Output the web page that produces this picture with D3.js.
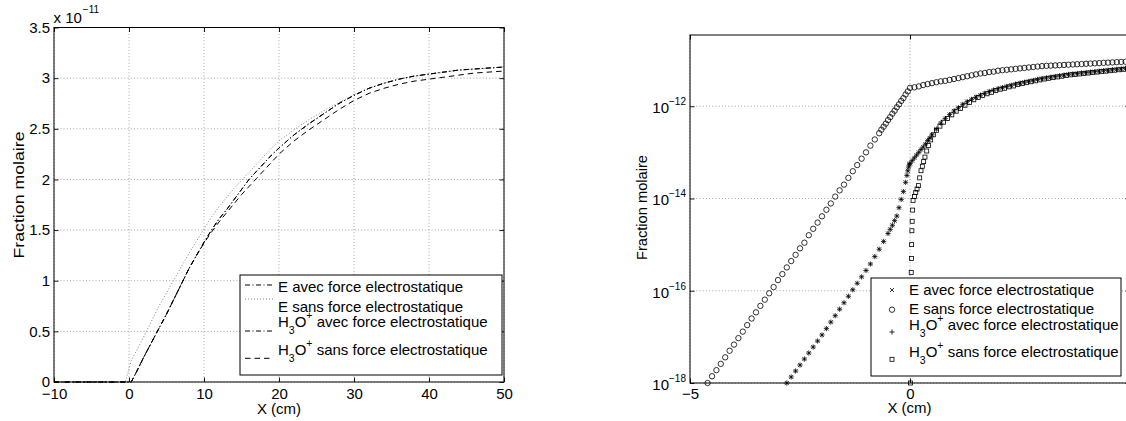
<!DOCTYPE html>
<html><head><meta charset="utf-8">
<script src="https://cdn.jsdelivr.net/npm/d3@7"></script>
<style>
html,body{margin:0;padding:0;background:#fff;}
svg{display:block;font-family:"Liberation Sans",Arial,Helvetica,sans-serif;}
text{white-space:pre;}
</style></head><body>
<svg id="chart" width="1126" height="421"></svg>
<script>
// ---------------- LEFT PANEL DATA (values in units of 1e-11) ----------------
const leftX = [-10,-5,-0.5,0,0.3,1,2,3,4,5,6,7,8,9,10,11,12,13,14,15,16,17,18,19,20,22,24,26,28,30,32,34,36,38,40,42,44,46,48,50];
const leftEAvec = [0,0,0,0,0,0.10,0.25,0.39,0.53,0.67,0.82,0.97,1.12,1.25,1.38,1.50,1.61,1.70,1.80,1.90,2.00,2.08,2.16,2.24,2.31,2.44,2.55,2.65,2.75,2.83,2.90,2.95,2.99,3.02,3.04,3.06,3.08,3.09,3.10,3.11];
const leftESans = [0,0,0,0.13,0.21,0.31,0.45,0.60,0.75,0.88,1.01,1.14,1.27,1.39,1.51,1.63,1.73,1.82,1.91,1.99,2.07,2.15,2.23,2.31,2.38,2.49,2.59,2.68,2.76,2.84,2.90,2.95,2.99,3.02,3.04,3.06,3.08,3.09,3.10,3.11];
const leftH3OAvec = [0,0,0,0,0,0.10,0.25,0.39,0.53,0.67,0.82,0.97,1.12,1.25,1.38,1.50,1.61,1.70,1.80,1.90,2.00,2.08,2.16,2.24,2.31,2.44,2.55,2.65,2.75,2.83,2.90,2.95,2.99,3.02,3.04,3.06,3.08,3.09,3.10,3.11];
const leftH3OSans = [0,0,0,0,0,0.10,0.25,0.39,0.53,0.67,0.82,0.97,1.12,1.25,1.37,1.48,1.58,1.67,1.76,1.85,1.93,2.01,2.09,2.17,2.25,2.38,2.49,2.59,2.69,2.78,2.85,2.90,2.94,2.97,2.99,3.01,3.03,3.05,3.06,3.07];
const leftXTicks = [-10,0,10,20,30,40,50];
const leftYTicks = [0,0.5,1,1.5,2,2.5,3,3.5];
const leftYExponent = "\u221211";

// ---------------- RIGHT PANEL DATA ----------------
const eAvecX = [-2.8,-2.7,-2.6,-2.5,-2.4,-2.3,-2.2,-2.1,-2.0,-1.9,-1.8,-1.7,-1.6,-1.5,-1.4,-1.3,-1.2,-1.1,-1.0,-0.9,-0.8,-0.7,-0.6,-0.5,-0.45,-0.4,-0.35,-0.3,-0.25,-0.2,-0.15,-0.1,-0.07,-0.05,-0.03,-0.01,0,
  0.05,0.1,0.15,0.2,0.25,0.3,0.35,0.4,0.45,0.5,0.6,0.7,0.8,0.9,1.0,1.1,1.2,1.3,1.4,1.5,1.6,1.7,1.8,1.9,2.0,2.1,2.2,2.3,2.4,2.5,2.6,2.7,2.8,2.9,3.0,3.1,3.2,3.3,3.4,3.5,3.6,3.7,3.8,3.9,4.0,4.1,4.2,4.3,4.4,4.5,4.6,4.7,4.8,4.9,5.0];
const eAvecY = [1.0e-18,1.35e-18,1.82e-18,2.45e-18,3.31e-18,4.47e-18,6.03e-18,8.13e-18,1.10e-17,1.51e-17,2.09e-17,2.88e-17,3.98e-17,5.50e-17,7.59e-17,1.05e-16,1.45e-16,2.00e-16,2.75e-16,3.80e-16,5.50e-16,7.94e-16,1.17e-15,1.74e-15,2.14e-15,2.63e-15,3.31e-15,4.17e-15,6.31e-15,9.55e-15,1.41e-14,2.24e-14,3.16e-14,3.98e-14,4.79e-14,5.50e-14,5.75e-14,
  6.6e-14,7.6e-14,8.7e-14,1.0e-13,1.15e-13,1.3e-13,1.51e-13,1.8e-13,2.04e-13,2.4e-13,3.2e-13,4.3e-13,5.4e-13,6.6e-13,7.9e-13,9.3e-13,1.1e-12,1.26e-12,1.41e-12,1.58e-12,1.74e-12,1.91e-12,2.09e-12,2.24e-12,2.40e-12,2.54e-12,2.69e-12,2.85e-12,3.02e-12,3.16e-12,3.31e-12,3.47e-12,3.63e-12,3.80e-12,3.98e-12,4.12e-12,4.27e-12,4.42e-12,4.57e-12,4.73e-12,4.90e-12,5.01e-12,5.13e-12,5.25e-12,5.37e-12,5.50e-12,5.62e-12,5.75e-12,5.89e-12,6.03e-12,6.17e-12,6.31e-12,6.46e-12,6.61e-12,6.76e-12];
const eSansX = [-4.6,-4.5,-4.4,-4.3,-4.2,-4.1,-4.0,-3.9,-3.8,-3.7,-3.6,-3.5,-3.4,-3.3,-3.2,-3.1,-3.0,-2.9,-2.8,-2.7,-2.6,-2.5,-2.4,-2.3,-2.2,-2.1,-2.0,-1.9,-1.8,-1.7,-1.6,-1.5,-1.4,-1.3,-1.2,-1.1,-1.0,-0.9,-0.8,-0.7,
  -0.65,-0.6,-0.55,-0.5,-0.45,-0.4,-0.35,-0.3,-0.25,-0.2,-0.15,-0.1,-0.05,0,
  0.1,0.2,0.3,0.4,0.5,0.6,0.7,0.8,0.9,1.0,1.1,1.2,1.3,1.4,1.5,1.6,1.7,1.8,1.9,2.0,2.1,2.2,2.3,2.4,2.5,2.6,2.7,2.8,2.9,3.0,3.1,3.2,3.3,3.4,3.5,3.6,3.7,3.8,3.9,4.0,4.1,4.2,4.3,4.4,4.5,4.6,4.7,4.8,4.9,5.0];
const eSansY = [1.0e-18,1.4e-18,1.9e-18,2.6e-18,3.6e-18,5.0e-18,6.8e-18,9.4e-18,1.3e-17,1.8e-17,2.5e-17,3.4e-17,4.7e-17,6.4e-17,8.8e-17,1.2e-16,1.7e-16,2.3e-16,3.2e-16,4.4e-16,6.0e-16,8.3e-16,1.1e-15,1.6e-15,2.2e-15,3.0e-15,4.1e-15,5.7e-15,7.8e-15,1.1e-14,1.5e-14,2.0e-14,2.8e-14,3.9e-14,5.3e-14,7.3e-14,1.0e-13,1.4e-13,1.9e-13,2.6e-13,
  3.1e-13,3.6e-13,4.2e-13,5.0e-13,5.8e-13,6.9e-13,8.0e-13,9.5e-13,1.1e-12,1.3e-12,1.5e-12,1.8e-12,2.1e-12,2.5e-12,
  2.57e-12,2.69e-12,2.88e-12,3.02e-12,3.16e-12,3.31e-12,3.47e-12,3.55e-12,3.72e-12,3.89e-12,4.07e-12,4.27e-12,4.47e-12,4.68e-12,4.90e-12,5.13e-12,5.25e-12,5.50e-12,5.62e-12,5.89e-12,6.03e-12,6.17e-12,6.31e-12,6.46e-12,6.61e-12,6.76e-12,6.92e-12,7.08e-12,7.24e-12,7.41e-12,7.50e-12,7.59e-12,7.67e-12,7.76e-12,7.85e-12,7.94e-12,8.04e-12,8.13e-12,8.22e-12,8.32e-12,8.41e-12,8.51e-12,8.61e-12,8.71e-12,8.81e-12,8.91e-12,9.02e-12,9.12e-12,9.23e-12,9.33e-12];
const h3oAvecX = [-2.8,-2.7,-2.6,-2.5,-2.4,-2.3,-2.2,-2.1,-2.0,-1.9,-1.8,-1.7,-1.6,-1.5,-1.4,-1.3,-1.2,-1.1,-1.0,-0.9,-0.8,-0.7,-0.6,-0.5,-0.45,-0.4,-0.35,-0.3,-0.25,-0.2,-0.15,-0.1,-0.07,-0.05,-0.03,-0.01,0,
  0.05,0.1,0.15,0.2,0.25,0.3,0.35,0.4,0.45,0.5,0.6,0.7,0.8,0.9,1.0,1.1,1.2,1.3,1.4,1.5,1.6,1.7,1.8,1.9,2.0,2.1,2.2,2.3,2.4,2.5,2.6,2.7,2.8,2.9,3.0,3.1,3.2,3.3,3.4,3.5,3.6,3.7,3.8,3.9,4.0,4.1,4.2,4.3,4.4,4.5,4.6,4.7,4.8,4.9,5.0];
const h3oAvecY = [1.0e-18,1.35e-18,1.82e-18,2.45e-18,3.31e-18,4.47e-18,6.03e-18,8.13e-18,1.10e-17,1.51e-17,2.09e-17,2.88e-17,3.98e-17,5.50e-17,7.59e-17,1.05e-16,1.45e-16,2.00e-16,2.75e-16,3.80e-16,5.50e-16,7.94e-16,1.17e-15,1.74e-15,2.14e-15,2.63e-15,3.31e-15,4.17e-15,6.31e-15,9.55e-15,1.41e-14,2.24e-14,3.16e-14,3.98e-14,4.79e-14,5.50e-14,5.75e-14,
  6.6e-14,7.6e-14,8.7e-14,1.0e-13,1.15e-13,1.3e-13,1.51e-13,1.8e-13,2.04e-13,2.4e-13,3.2e-13,4.3e-13,5.4e-13,6.6e-13,7.9e-13,9.3e-13,1.1e-12,1.26e-12,1.41e-12,1.58e-12,1.74e-12,1.91e-12,2.09e-12,2.24e-12,2.40e-12,2.54e-12,2.69e-12,2.85e-12,3.02e-12,3.16e-12,3.31e-12,3.47e-12,3.63e-12,3.80e-12,3.98e-12,4.12e-12,4.27e-12,4.42e-12,4.57e-12,4.73e-12,4.90e-12,5.01e-12,5.13e-12,5.25e-12,5.37e-12,5.50e-12,5.62e-12,5.75e-12,5.89e-12,6.03e-12,6.17e-12,6.31e-12,6.46e-12,6.61e-12,6.76e-12];
const h3oSansX = [0.010,0.012,0.014,0.016,0.018,0.020,0.022,0.025,0.028,0.032,0.037,0.043,0.050,0.060,0.070,0.10,0.13,0.16,0.19,0.22,0.25,0.28,0.31,0.34,0.38,0.42,0.47,0.53,0.60,0.68,0.76,0.85,0.95,1.05,1.15,1.25,1.35,1.45,1.55,1.65,1.75,1.85,1.95,2.05,
  2.15,2.25,2.35,2.45,2.55,2.65,2.75,2.85,2.95,3.05,3.15,3.25,3.35,3.45,3.55,3.65,3.75,3.85,3.95,4.05,4.15,4.25,4.35,4.45,4.55,4.65,4.75,4.85,4.95];
const h3oSansY = [1.0e-18,2.0e-18,4.0e-18,7.9e-18,1.6e-17,3.2e-17,6.3e-17,1.3e-16,2.5e-16,5.0e-16,1.0e-15,2.0e-15,3.2e-15,5.6e-15,9.1e-15,1.1e-14,1.35e-14,1.6e-14,1.9e-14,2.8e-14,4.0e-14,5.0e-14,6.3e-14,7.9e-14,1.07e-13,1.41e-13,1.86e-13,2.4e-13,3.0e-13,3.7e-13,4.5e-13,5.4e-13,6.5e-13,7.8e-13,8.9e-13,1.05e-12,1.2e-12,1.38e-12,1.55e-12,1.7e-12,1.86e-12,2.0e-12,2.19e-12,2.34e-12,
  2.45e-12,2.63e-12,2.75e-12,2.95e-12,3.09e-12,3.24e-12,3.39e-12,3.55e-12,3.72e-12,3.89e-12,4.03e-12,4.17e-12,4.32e-12,4.47e-12,4.62e-12,4.79e-12,4.90e-12,5.01e-12,5.13e-12,5.25e-12,5.37e-12,5.50e-12,5.62e-12,5.75e-12,5.89e-12,6.03e-12,6.17e-12,6.31e-12,6.46e-12];
const rightXTicks = [-5,0];
const rightYTicks = [1e-18,1e-16,1e-14,1e-12];

const legendLabels = ["E avec force electrostatique","E sans force electrostatique","H_3O^+ avec force electrostatique","H_3O^+ sans force electrostatique"];
const xLabel = "X (cm)";
const yLabel = "Fraction molaire";

// ---------------- DRAWING ----------------
const svg = d3.select("#chart");
const FS = 15;
const GRID = {stroke:"#8a8a8a", w:0.8, dash:"1,2.2"};

function rich(textSel, str, small, subShift, supShift) {
  const parts = []; let buf = ""; let i = 0;
  while (i < str.length) {
    const c = str[i];
    if (c === "_" || c === "^") { if (buf) { parts.push({t:buf,k:"n"}); buf=""; } parts.push({t:str[i+1], k: c === "_" ? "sub" : "sup"}); i += 2; }
    else { buf += c; i++; }
  }
  if (buf) parts.push({t:buf,k:"n"});
  let cur = 0;
  parts.forEach(p => {
    const target = p.k === "sub" ? subShift : p.k === "sup" ? supShift : 0;
    const ts = textSel.append("tspan").text(p.t).attr("dy", target - cur);
    if (p.k !== "n") ts.attr("font-size", small);
    cur = target;
  });
}

function styleAxis(g, hideText) {
  g.select(".domain").remove();
  g.selectAll(".tick line").attr("stroke","#000").attr("stroke-width",0.9);
  g.selectAll(".tick text").attr("font-size",FS).attr("fill","#000").attr("font-family",null);
  if (hideText) g.selectAll(".tick text").remove();
  g.attr("font-family",null);
}

// ===== Left panel =====
const L = {left:54, right:504, top:27.5, bottom:382};
const xL = d3.scaleLinear().domain([-10,50]).range([L.left,L.right]);
const yL = d3.scaleLinear().domain([0,3.5]).range([L.bottom,L.top]);
const gL = svg.append("g");

gL.append("g").selectAll("line").data(leftXTicks).join("line")
  .attr("x1",d=>xL(d)).attr("x2",d=>xL(d)).attr("y1",L.top).attr("y2",L.bottom)
  .attr("stroke",GRID.stroke).attr("stroke-width",GRID.w).attr("stroke-dasharray",GRID.dash);
gL.append("g").selectAll("line").data(leftYTicks).join("line")
  .attr("y1",d=>yL(d)).attr("y2",d=>yL(d)).attr("x1",L.left).attr("x2",L.right)
  .attr("stroke",GRID.stroke).attr("stroke-width",GRID.w).attr("stroke-dasharray",GRID.dash);

const fmt = d3.format("~g");
gL.append("g").attr("transform",`translate(0,${L.bottom})`)
  .call(d3.axisBottom(xL).tickValues(leftXTicks).tickSizeInner(-4.5).tickSizeOuter(0).tickPadding(6.5).tickFormat(fmt))
  .call(g=>styleAxis(g,false));
gL.append("g").attr("transform",`translate(0,${L.top})`)
  .call(d3.axisTop(xL).tickValues(leftXTicks).tickSizeInner(-4.5).tickSizeOuter(0))
  .call(g=>styleAxis(g,true));
gL.append("g").attr("transform",`translate(${L.left},0)`)
  .call(d3.axisLeft(yL).tickValues(leftYTicks).tickSizeInner(-4.5).tickSizeOuter(0).tickPadding(4).tickFormat(fmt))
  .call(g=>styleAxis(g,false));
gL.append("g").attr("transform",`translate(${L.right},0)`)
  .call(d3.axisRight(yL).tickValues(leftYTicks).tickSizeInner(-4.5).tickSizeOuter(0))
  .call(g=>styleAxis(g,true));

const lineL = d3.line().x(d=>xL(d[0])).y(d=>yL(d[1]));
const leftSeries = [
  {y:leftEAvec, dash:"5,2.5,1,2.5", color:"#000", w:1},
  {y:leftESans, dash:"1,2", color:"#666", w:0.8},
  {y:leftH3OAvec, dash:"5,2.5,1,2.5", color:"#000", w:1},
  {y:leftH3OSans, dash:"5.5,4", color:"#000", w:1}
];
leftSeries.forEach(s => {
  gL.append("path").datum(d3.zip(leftX, s.y)).attr("d", lineL)
    .attr("fill","none").attr("stroke",s.color).attr("stroke-width",s.w).attr("stroke-dasharray",s.dash);
});

gL.append("rect").attr("x",L.left).attr("y",L.top).attr("width",L.right-L.left).attr("height",L.bottom-L.top)
  .attr("fill","none").attr("stroke","#000").attr("stroke-width",1);

// exponent label
const expT = gL.append("text").attr("x",53.5).attr("y",22.7).attr("font-size",FS);
expT.append("tspan").text("x 10");
expT.append("tspan").text(leftYExponent).attr("font-size",10).attr("dy",-9.4).attr("dx",1);

// axis labels
gL.append("text").attr("x",(L.left+L.right)/2).attr("y",413.5).attr("text-anchor","middle").attr("font-size",FS).text(xLabel);
gL.append("text").attr("transform","translate(24,195) rotate(-90)").attr("text-anchor","middle").attr("font-size",FS)
  .attr("textLength",127).attr("lengthAdjust","spacingAndGlyphs").text(yLabel);

// left legend
const LL = {x:240, y:275, w:262, h:100};
gL.append("rect").attr("x",LL.x).attr("y",LL.y).attr("width",LL.w).attr("height",LL.h).attr("fill","#fff").attr("stroke","#000").attr("stroke-width",1);
const leftLegRows = [{ly:285, ty:291.5},{ly:299, ty:311.7},{ly:331, ty:326.7},{ly:358.3, ty:355}];
leftSeries.forEach((s,i) => {
  gL.append("line").attr("x1",245).attr("x2",273.5).attr("y1",leftLegRows[i].ly).attr("y2",leftLegRows[i].ly)
    .attr("stroke",s.color).attr("stroke-width",s.w).attr("stroke-dasharray",s.dash);
  const t = gL.append("text").attr("x",278).attr("y",leftLegRows[i].ty).attr("font-size",FS);
  rich(t, legendLabels[i], 10.5, 7, -8);
});

// ===== Right panel =====
const R = {left:690, right:1130, top:35, bottom:383};
const xR = d3.scaleLinear().domain([-5,5]).range([R.left,R.right]);
const yR = d3.scaleLog().domain([1e-18,3.5e-11]).range([R.bottom,R.top]);
const gR = svg.append("g");

gR.append("g").selectAll("line").data(rightXTicks).join("line")
  .attr("x1",d=>xR(d)).attr("x2",d=>xR(d)).attr("y1",R.top).attr("y2",R.bottom)
  .attr("stroke",GRID.stroke).attr("stroke-width",GRID.w).attr("stroke-dasharray",GRID.dash);
gR.append("g").selectAll("line").data(rightYTicks).join("line")
  .attr("y1",d=>yR(d)).attr("y2",d=>yR(d)).attr("x1",R.left).attr("x2",R.right)
  .attr("stroke",GRID.stroke).attr("stroke-width",GRID.w).attr("stroke-dasharray",GRID.dash);

gR.append("g").attr("transform",`translate(0,${R.bottom})`)
  .call(d3.axisBottom(xR).tickValues(rightXTicks).tickSizeInner(-4.5).tickSizeOuter(0).tickPadding(5).tickFormat(fmt))
  .call(g=>styleAxis(g,false));
gR.append("g").attr("transform",`translate(0,${R.top})`)
  .call(d3.axisTop(xR).tickValues(rightXTicks).tickSizeInner(-4.5).tickSizeOuter(0))
  .call(g=>styleAxis(g,true));
gR.append("g").attr("transform",`translate(${R.left},0)`)
  .call(d3.axisLeft(yR).tickValues(rightYTicks).tickSizeInner(-4.5).tickSizeOuter(0).tickFormat(""))
  .call(g=>styleAxis(g,true));
gR.append("g").attr("transform",`translate(${R.right},0)`)
  .call(d3.axisRight(yR).tickValues(rightYTicks).tickSizeInner(-4.5).tickSizeOuter(0))
  .call(g=>styleAxis(g,true));

// log tick labels
rightYTicks.forEach(v => {
  const e = Math.round(Math.log10(v));
  const t = gR.append("text").attr("x",R.left-4).attr("y",yR(v)+7).attr("text-anchor","end").attr("font-size",FS);
  t.append("tspan").text("10");
  t.append("tspan").text(e < 0 ? "\u2212" + (-e) : String(e)).attr("font-size",10).attr("dy",-8.2);
});

// markers
const markerDraw = {
  x: (g,s) => g.append("path").attr("d",`M${-s},${-s}L${s},${s}M${-s},${s}L${s},${-s}`),
  o: (g,s) => g.append("circle").attr("r",s),
  p: (g,s) => g.append("path").attr("d",`M${-s},0L${s},0M0,${-s}L0,${s}`),
  s: (g,s) => g.append("rect").attr("x",-s).attr("y",-s).attr("width",2*s).attr("height",2*s)
};
const rightSeries = [
  {x:eAvecX, y:eAvecY, m:"x", size:2},
  {x:eSansX, y:eSansY, m:"o", size:2.7},
  {x:h3oAvecX, y:h3oAvecY, m:"p", size:2.6},
  {x:h3oSansX, y:h3oSansY, m:"s", size:2}
];
rightSeries.forEach(s => {
  const pts = d3.zip(s.x, s.y);
  const gg = gR.append("g").attr("fill","none").attr("stroke","#000").attr("stroke-width",0.8);
  pts.forEach(p => {
    const g1 = gg.append("g").attr("transform",`translate(${xR(p[0])},${yR(p[1])})`);
    markerDraw[s.m](g1, s.size);
  });
});

gR.append("rect").attr("x",R.left).attr("y",R.top).attr("width",R.right-R.left).attr("height",R.bottom-R.top)
  .attr("fill","none").attr("stroke","#000").attr("stroke-width",1);

gR.append("text").attr("x",909.5).attr("y",413).attr("text-anchor","middle").attr("font-size",FS).text(xLabel);
gR.append("text").attr("transform","translate(646.5,207.5) rotate(-90)").attr("text-anchor","middle").attr("font-size",FS)
  .attr("textLength",105).attr("lengthAdjust","spacingAndGlyphs").text(yLabel);

// right legend
const RL = {x:871, y:278, w:250, h:98};
gR.append("rect").attr("x",RL.x).attr("y",RL.y).attr("width",RL.w).attr("height",RL.h).attr("fill","#fff").attr("stroke","#000").attr("stroke-width",1);
const rightLegRows = [{my:290, ty:295},{my:309.7, ty:314.3},{my:332, ty:330},{my:359.3, ty:357.3}];
rightSeries.forEach((s,i) => {
  const g1 = gR.append("g").attr("transform",`translate(892,${rightLegRows[i].my})`)
    .attr("fill","none").attr("stroke","#000").attr("stroke-width",0.8);
  markerDraw[s.m](g1, s.size);
  const t = gR.append("text").attr("x",909).attr("y",rightLegRows[i].ty).attr("font-size",FS);
  rich(t, legendLabels[i], 10.5, 7, -8);
});
</script></body></html>
